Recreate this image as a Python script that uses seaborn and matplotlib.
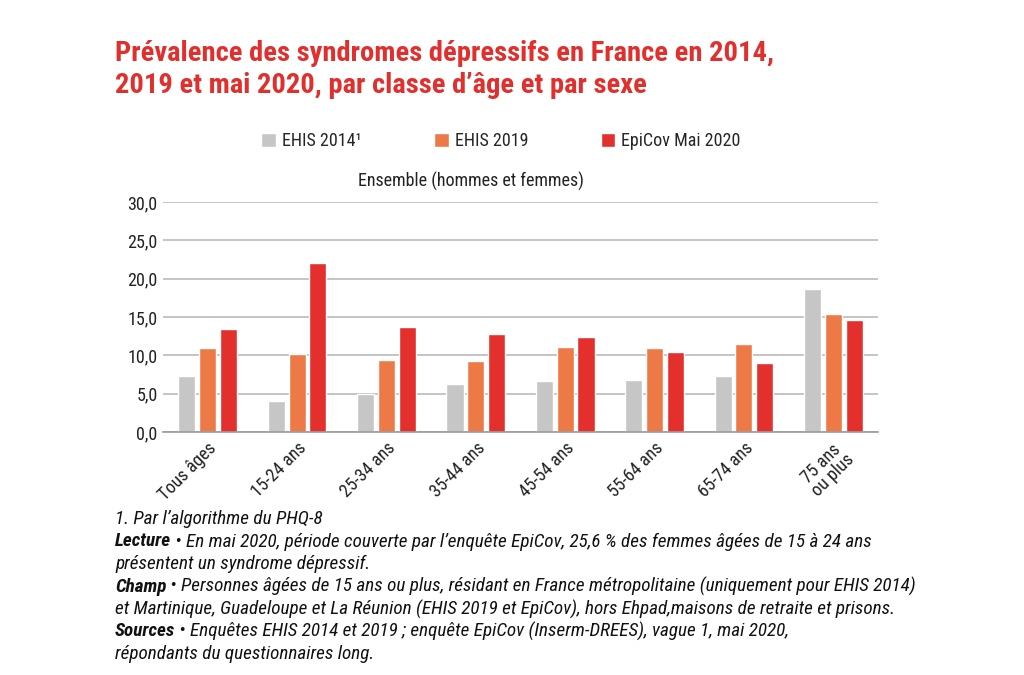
import pandas as pd
import matplotlib
matplotlib.use('Agg')
import matplotlib.pyplot as plt
import seaborn as sns

# values (%)
ages = ['Tous âges', '15-24 ans', '25-34 ans', '35-44 ans', '45-54 ans',
        '55-64 ans', '65-74 ans', '75 ans\nou plus']
ehis_2014 = [7.3, 4.1, 4.9, 6.3, 6.7, 6.8, 7.3, 18.7]
ehis_2019 = [10.9, 10.2, 9.4, 9.2, 11.1, 10.9, 11.5, 15.4]
epicov_2020 = [13.5, 22.0, 13.7, 12.8, 12.4, 10.5, 9.0, 14.6]
series = ['EHIS 2014¹', 'EHIS 2019', 'EpiCov Mai 2020']
colors = ['#c6c6c6', '#ed7a46', '#e3302d']
yticks = [0, 5, 10, 15, 20, 25, 30]

df = pd.DataFrame({
    'age': ages * 3,
    'serie': [s for s in series for _ in ages],
    'value': ehis_2014 + ehis_2019 + epicov_2020,
})

sns.set_theme(style='white')
plt.rcParams['font.family'] = ['Roboto Condensed', 'DejaVu Sans']
plt.rcParams['font.stretch'] = 'condensed'

fig = plt.figure(figsize=(10.24, 6.75), dpi=100)
ax = fig.add_axes([163 / 1024, 1 - 432 / 675, 715 / 1024, 230 / 675])

sns.barplot(data=df, x='age', y='value', hue='serie', palette=colors,
            width=0.7, gap=0.18, ax=ax, saturation=1)

ax.set_ylim(0, 30)
ax.set_yticks(yticks)
ax.set_yticklabels([f'{v:.1f}'.replace('.', ',') for v in yticks], fontsize=13, color='#222222')
ax.yaxis.grid(True, color='#bababa', linewidth=1.2)
ax.set_axisbelow(True)
ax.tick_params(axis='y', length=0, pad=4)
ax.tick_params(axis='x', length=0, pad=5)
for s in ['left', 'right', 'top']:
    ax.spines[s].set_visible(False)
ax.spines['bottom'].set_color('#999999')
ax.spines['bottom'].set_linewidth(1.2)
ax.set_xlabel('')
ax.set_ylabel('')
ax.set_xticks(range(len(ages)))
ax.set_xticklabels(ages, rotation=45, ha='right', rotation_mode='anchor',
                   fontsize=13, color='#222222', linespacing=0.9, multialignment='center')

sns.move_legend(ax, 'center', bbox_to_anchor=(501 / 1024, 1 - 141 / 675),
                bbox_transform=fig.transFigure, ncol=3, frameon=False, title=None,
                fontsize=13, handlelength=0.83, handleheight=0.83, handletextpad=0.33,
                columnspacing=4.0)

fig.text(471 / 1024, 1 - 181 / 675, 'Ensemble (hommes et femmes)', ha='center', va='center',
         fontsize=13, color='#222222')

fig.text(115 / 1024, 1 - 61 / 675, 'Prévalence des syndromes dépressifs en France en 2014,',
         ha='left', va='baseline', fontsize=20.5, fontweight='bold', color='#e0302e')
fig.text(115 / 1024, 1 - 93 / 675, '2019 et mai 2020, par classe d’âge et par sexe',
         ha='left', va='baseline', fontsize=20.5, fontweight='bold', color='#e0302e')

# footnotes, with bold lead-in words
notes = [
    ('', '1. Par l’algorithme du PHQ-8'),
    ('Lecture', ' • En mai 2020, période couverte par l’enquête EpiCov, 25,6 % des femmes âgées de 15 à 24 ans'),
    ('', 'présentent un syndrome dépressif.'),
    ('Champ', ' • Personnes âgées de 15 ans ou plus, résidant en France métropolitaine (uniquement pour EHIS 2014)'),
    ('', 'et Martinique, Guadeloupe et La Réunion (EHIS 2019 et EpiCov), hors Ehpad,maisons de retraite et prisons.'),
    ('Sources', ' • Enquêtes EHIS 2014 et 2019 ; enquête EpiCov (Inserm-DREES), vague 1, mai 2020,'),
    ('', 'répondants du questionnaires long.'),
]
renderer = fig.canvas.get_renderer()
y0 = 519
for i, (bold, rest) in enumerate(notes):
    y = 1 - (y0 + i * 22.5) / 675
    x = 115 / 1024
    if bold:
        t = fig.text(x, y, bold, fontsize=13.8, style='italic', fontweight='bold',
                     color='#111111', va='center')
        bb = t.get_window_extent(renderer)
        x = bb.x1 / fig.bbox.width
    fig.text(x, y, rest, fontsize=13.8, style='italic', color='#111111', va='center')

plt.savefig('out.png', dpi=100)
